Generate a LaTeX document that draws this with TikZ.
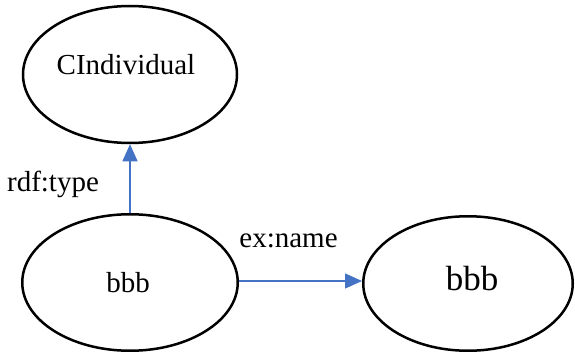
\documentclass[tikz,border=0pt]{standalone}
\usepackage{fontspec}
\setmainfont{Liberation Serif}
\usetikzlibrary{shapes.geometric,arrows.meta}
\definecolor{linkblue}{HTML}{4472C4}
\tikzset{
  oval/.style={ellipse, draw=black, line width=2.5pt, inner sep=0pt},
  lbl/.style={inner sep=0pt, font=\fontsize{29}{31}\selectfont},
  biglbl/.style={inner sep=0pt, font=\fontsize{35}{37}\selectfont},
  link/.style={draw=linkblue, line width=1.3pt,
    -{Triangle[length=17pt,width=15pt]}, fill=linkblue},
}
\begin{document}
\begin{tikzpicture}[x=1pt,y=1pt]
  \useasboundingbox (0,0) rectangle (575,354);
  % resources
  \node[oval, minimum width=214pt, minimum height=137pt] (cls) at (130,279.5) {};
  \node[oval, minimum width=215.5pt, minimum height=136.5pt] (subj) at (130,71.5) {};
  \node[oval, minimum width=209.5pt, minimum height=134.5pt] (obj) at (468,70.5) {};
  % texts inside the ellipses
  \node[lbl, anchor=base] (clstxt) at (126,279) {CIndividual};
  \node[lbl, anchor=base] (subjtxt) at (128,62) {bbb};
  \node[biglbl, anchor=base] (objtxt) at (472,64) {bbb};
  % properties
  \draw[link] (subj) -- (cls);
  \draw[link] (subj.east |- 0,73) -- (obj.west |- 0,73);
  \node[lbl, anchor=base] (typelbl) at (53,163) {rdf:type};
  \node[lbl, anchor=base] (namelbl) at (288.5,107) {ex:name};
\end{tikzpicture}
\end{document}
